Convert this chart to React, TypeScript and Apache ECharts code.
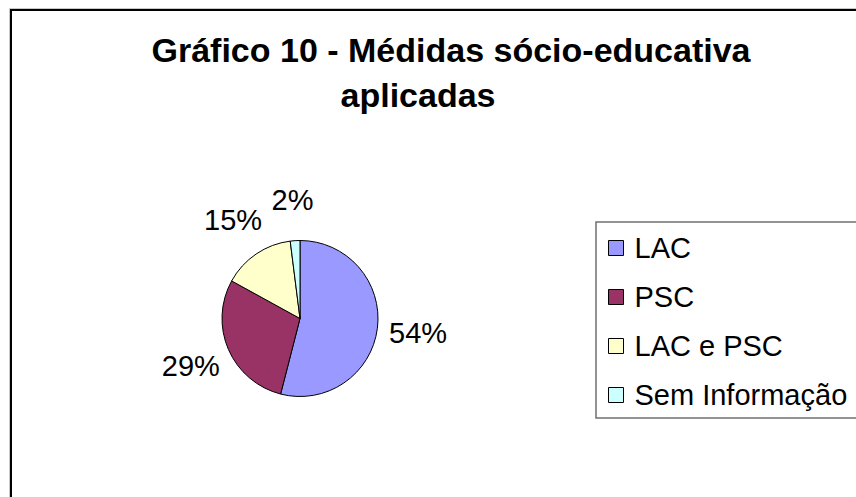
import React, { useEffect, useRef } from "react";
import * as echarts from "echarts";

const categories = ["LAC", "PSC", "LAC e PSC", "Sem Informação"];
const values = [54, 29, 15, 2];
const colors = ["#9999FF", "#993366", "#FFFFCC", "#CCFFFF"];
const titleLines = ["Gráfico 10 - Médidas sócio-educativa", "aplicadas"];

const FONT = '"Liberation Sans", Arial, sans-serif';

export default function App() {
  const ref = useRef<HTMLDivElement>(null);
  useEffect(() => {
    if (!ref.current) return;
    const chart = echarts.init(ref.current, null, { renderer: "svg" });
    const data = categories.map((name, i) => ({
      name,
      value: values[i],
      itemStyle: { color: colors[i] },
    }));
    chart.setOption({
      animation: false,
      backgroundColor: "#fff",
      graphic: [
        {
          type: "rect",
          shape: { x: 9.5, y: 8.5, width: 900, height: 600 },
          style: { fill: "none", stroke: "#c8c8c8", lineWidth: 1 },
          silent: true,
        },
        {
          type: "rect",
          shape: { x: 11, y: 10, width: 900, height: 600 },
          style: { fill: "none", stroke: "#000", lineWidth: 2 },
          silent: true,
        },
        {
          type: "text",
          x: 451,
          y: 50,
          style: {
            text: titleLines[0],
            font: `bold 34px ${FONT}`,
            fill: "#000",
            align: "center",
            verticalAlign: "middle",
          },
        },
        {
          type: "text",
          x: 418,
          y: 95,
          style: {
            text: titleLines[1],
            font: `bold 34px ${FONT}`,
            fill: "#000",
            align: "center",
            verticalAlign: "middle",
          },
        },
      ],
      legend: {
        orient: "vertical",
        left: 596,
        top: 222,
        data: categories,
        icon: "rect",
        itemWidth: 15,
        itemHeight: 15,
        itemGap: 19,
        padding: [11, 12, 8, 12],
        borderColor: "#707070",
        borderWidth: 1.5,
        itemStyle: { borderColor: "#000", borderWidth: 1 },
        textStyle: {
          fontFamily: FONT,
          fontSize: 29,
          color: "#000",
          lineHeight: 30,
          padding: [0, 0, 0, 6],
        },
        selectedMode: false,
      },
      series: [
        {
          type: "pie",
          center: [300, 318.5],
          radius: 78,
          startAngle: 90,
          clockwise: true,
          data,
          label: { show: false },
          labelLine: { show: false },
          itemStyle: { borderColor: "#000", borderWidth: 1 },
          emphasis: { disabled: true },
          silent: true,
        },
        {
          type: "pie",
          center: [300, 318.5],
          radius: [106, 126],
          startAngle: 90,
          clockwise: true,
          data: categories.map((name, i) => ({ name, value: values[i] })),
          itemStyle: { color: "rgba(0,0,0,0)", borderWidth: 0 },
          label: {
            show: true,
            position: "inside",
            formatter: "{d}%",
            fontFamily: FONT,
            fontSize: 29,
            color: "#000",
          },
          labelLine: { show: false },
          emphasis: { disabled: true },
          silent: true,
        },
      ],
    });
    return () => chart.dispose();
  }, []);
  return (
    <div
      ref={ref}
      style={{ position: "absolute", left: 0, top: 0, width: 856, height: 497 }}
    />
  );
}
